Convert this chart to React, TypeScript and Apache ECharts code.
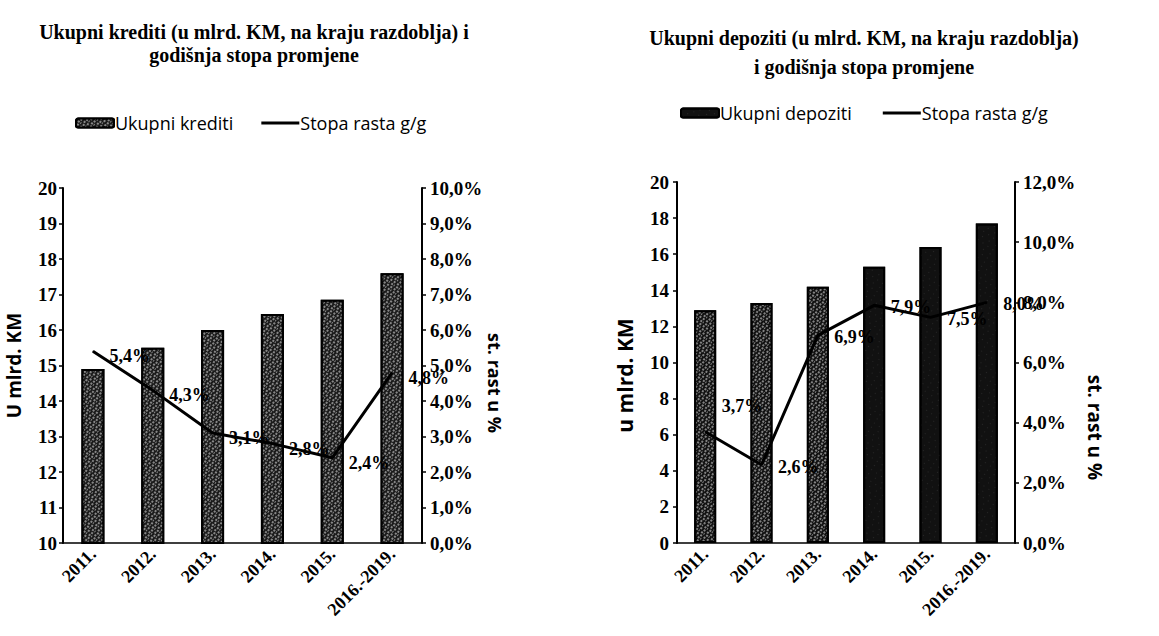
import React, { useEffect, useRef } from "react";
import * as echarts from "echarts";

const categories = ["2011.", "2012.", "2013.", "2014.", "2015.", "2016.-2019."];
const krediti = [14.9, 15.5, 16.0, 16.45, 16.85, 17.6];
const kreditiRast = [5.4, 4.3, 3.1, 2.8, 2.4, 4.8];
const depoziti = [12.9, 13.3, 14.2, 15.3, 16.4, 17.7];
const depozitiRast = [3.7, 2.6, 6.9, 7.9, 7.5, 8.0];

const leftTitle = "Ukupni krediti (u mlrd. KM, na kraju razdoblja) i\ngodišnja stopa promjene";
const rightTitle = "Ukupni depoziti (u mlrd. KM, na kraju razdoblja)\ni godišnja stopa promjene";

const SERIF = "'Liberation Serif', 'DejaVu Serif', serif";
const SANS = "'Open Sans', 'Noto Sans', sans-serif";

const pct = (v: number) => v.toFixed(1).replace(".", ",") + "%";

export default function App() {
  const ref = useRef<HTMLDivElement>(null);
  useEffect(() => {
    if (!ref.current) return;
    const chart = echarts.init(ref.current, null, { renderer: "svg" });

    const tickLabel = { fontFamily: SERIF, fontWeight: "bold" as const, fontSize: 19, color: "#000" };
    const axisLine = { show: true, lineStyle: { color: "#000", width: 2 } };
    const axisTick = { show: true, inside: false, length: 4, lineStyle: { color: "#000", width: 1.5 } };
    const barDecal = {
      symbol: "rect",
      symbolSize: 0.85,
      color: "rgba(255,255,255,0.75)",
      dashArrayX: [[2, 2], [1, 2, 2, 1]],
      dashArrayY: [2, 1],
      rotation: 0.6,
    };
    const barDecalDark = {
      symbol: "rect",
      symbolSize: 0.6,
      color: "rgba(255,255,255,0.3)",
      dashArrayX: [[1, 5], [1, 7]],
      dashArrayY: [1, 4],
      rotation: 0.6,
    };
    const lineIcon = "path://M0,0H40V3H0Z";

    const xAxisBase = (gridIndex: number) => ({
      type: "category" as const,
      gridIndex,
      data: categories,
      axisLine: { show: true, lineStyle: { color: "#000", width: 1.5 } },
      axisTick: { show: false },
      axisLabel: { ...tickLabel, fontSize: 18, rotate: 45, interval: 0, margin: 8 },
      splitLine: { show: false },
    });

    const lineLabel = {
      show: true,
      position: "right" as const,
      distance: 16,
      offset: [0, 5],
      fontFamily: SERIF,
      fontWeight: "bold" as const,
      fontSize: 18,
      color: "#000",
      formatter: (p: any) => pct(p.value),
    };

    chart.setOption({
      animation: false,
      backgroundColor: "#fff",
      title: [
        {
          text: leftTitle,
          left: 254,
          top: 20,
          textAlign: "center",
          padding: 0,
          textStyle: { fontFamily: SERIF, fontWeight: "bold", fontSize: 20, lineHeight: 23, color: "#000" },
        },
        {
          text: rightTitle,
          left: 864,
          top: 23,
          textAlign: "center",
          padding: 0,
          textStyle: { fontFamily: SERIF, fontWeight: "bold", fontSize: 20, lineHeight: 29, color: "#000" },
        },
      ],
      legend: [
        {
          data: ["Ukupni krediti", { name: "Stopa rasta g/g", icon: lineIcon }],
          left: 75,
          top: 114,
          padding: 0,
          itemGap: 28,
          itemWidth: 38,
          itemHeight: 9,
          selectedMode: false,
          textStyle: { fontFamily: SANS, fontSize: 18, color: "#000", padding: [0, 0, 0, -4] },
        },
        {
          data: ["Ukupni depoziti", { name: "Stopa rasta g/g", icon: lineIcon }],
          left: 680,
          top: 104,
          padding: 0,
          itemGap: 31,
          itemWidth: 38,
          itemHeight: 9,
          selectedMode: false,
          textStyle: { fontFamily: SANS, fontSize: 18, color: "#000", padding: [0, 0, 0, -4] },
        },
      ],
      grid: [
        { left: 63, top: 188, width: 359, height: 355 },
        { left: 677, top: 182, width: 338, height: 361 },
      ],
      xAxis: [xAxisBase(0), xAxisBase(1)],
      yAxis: [
        {
          type: "value",
          gridIndex: 0,
          min: 10,
          max: 20,
          interval: 1,
          axisLine,
          axisTick,
          splitLine: { show: false },
          axisLabel: { ...tickLabel, margin: 6 },
          name: "U mlrd. KM",
          nameLocation: "middle",
          nameRotate: 90,
          nameGap: 40,
          nameTextStyle: { fontFamily: SANS, fontWeight: "bold", fontSize: 19, color: "#000" },
        },
        {
          type: "value",
          gridIndex: 0,
          position: "right",
          min: 0,
          max: 10,
          interval: 1,
          axisLine,
          axisTick,
          splitLine: { show: false },
          axisLabel: { ...tickLabel, margin: 8, formatter: (v: number) => pct(v) },
          name: "st. rast u %",
          nameLocation: "middle",
          nameRotate: -90,
          nameGap: 58,
          nameTextStyle: { fontFamily: SANS, fontWeight: "bold", fontSize: 18, color: "#000", padding: [0, 0, 0, 35] },
        },
        {
          type: "value",
          gridIndex: 1,
          min: 0,
          max: 20,
          interval: 2,
          axisLine,
          axisTick,
          splitLine: { show: false },
          axisLabel: { ...tickLabel, margin: 8 },
          name: "u mlrd. KM",
          nameLocation: "middle",
          nameRotate: 90,
          nameGap: 42,
          nameTextStyle: { fontFamily: SANS, fontWeight: "bold", fontSize: 21, color: "#000", padding: [0, 26, 0, 0] },
        },
        {
          type: "value",
          gridIndex: 1,
          position: "right",
          min: 0,
          max: 12,
          interval: 2,
          axisLine,
          axisTick,
          splitLine: { show: false },
          axisLabel: { ...tickLabel, margin: 8, formatter: (v: number) => pct(v) },
          name: "st. rast u %",
          nameLocation: "middle",
          nameRotate: -90,
          nameGap: 70,
          nameTextStyle: { fontFamily: SANS, fontWeight: "bold", fontSize: 19, color: "#000", padding: [0, 0, 0, 130] },
        },
      ],
      series: [
        {
          name: "Ukupni krediti",
          type: "bar",
          xAxisIndex: 0,
          yAxisIndex: 0,
          barWidth: 23,
          data: krediti,
          itemStyle: { color: "#1a1a1a", borderColor: "#000", borderWidth: 2, decal: barDecal },
        },
        {
          name: "Stopa rasta g/g",
          type: "line",
          xAxisIndex: 0,
          yAxisIndex: 1,
          data: kreditiRast,
          symbol: "circle",
          symbolSize: 1,
          showSymbol: true,
          lineStyle: { color: "#000", width: 3 },
          itemStyle: { color: "#000" },
          label: lineLabel,
          z: 5,
        },
        {
          name: "Ukupni depoziti",
          type: "bar",
          xAxisIndex: 1,
          yAxisIndex: 2,
          barWidth: 22,
          data: depoziti.map((v, i) => ({
            value: v,
            itemStyle: { decal: i < 3 ? barDecal : barDecalDark },
          })),
          itemStyle: { color: "#111", borderColor: "#000", borderWidth: 2, decal: barDecalDark },
        },
        {
          name: "Stopa rasta g/g",
          type: "line",
          xAxisIndex: 1,
          yAxisIndex: 3,
          data: depozitiRast.map((v, i) => ({
            value: v,
            label: i === 0 ? { offset: [0, -26] } : undefined,
          })),
          symbol: "circle",
          symbolSize: 1,
          showSymbol: true,
          lineStyle: { color: "#000", width: 3 },
          itemStyle: { color: "#000" },
          label: { ...lineLabel, distance: 16, offset: [0, 2] },
          z: 5,
        },
      ],
    });
    return () => chart.dispose();
  }, []);

  return (
    <div
      ref={ref}
      style={{ position: "absolute", left: 0, top: 0, width: 1159, height: 636, background: "#fff" }}
    />
  );
}
